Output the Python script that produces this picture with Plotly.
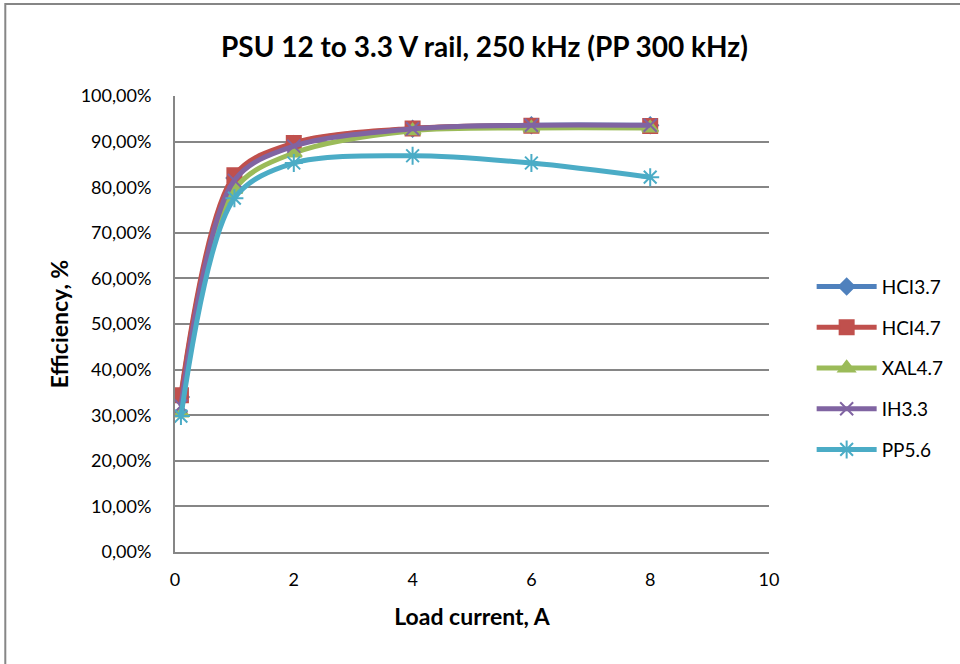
import plotly.graph_objects as go

# load current, A
load = [0.1, 1, 2, 4, 6, 8]

# efficiency, %
hci37 = [34.0, 82.0, 89.5, 92.8, 93.6, 93.6]
hci47 = [34.4, 82.6, 89.7, 92.9, 93.5, 93.4]
xal47 = [30.5, 79.5, 87.5, 92.4, 93.0, 93.0]
ih33 = [32.0, 81.5, 89.0, 92.8, 93.6, 93.6]
pp56 = [29.8, 77.6, 85.3, 86.9, 85.3, 82.2]

y_ticks = [0, 10, 20, 30, 40, 50, 60, 70, 80, 90, 100]
y_labels = ["%d,00%%" % v for v in y_ticks]
x_ticks = [0, 2, 4, 6, 8, 10]

series = [
    ("HCI3.7", hci37, "#4F81BD", "diamond", 12),
    ("HCI4.7", hci47, "#C0504D", "square", 14),
    ("XAL4.7", xal47, "#9BBB59", "triangle-up", 14),
    ("IH3.3", ih33, "#8064A2", "x-thin", 13),
    ("PP5.6", pp56, "#4BACC6", "asterisk", 15),
]

fig = go.Figure()
for i, (name, vals, col, sym, sz) in enumerate(series):
    fig.add_trace(go.Scatter(
        x=load, y=vals, name=name, mode="lines+markers",
        line=dict(color=col, width=5, shape="spline", smoothing=0.9),
        marker=dict(symbol=sym, size=sz, color=col,
                    line=dict(color=col, width=2)),
        legendgroup=str(i),
    ))

fig.update_layout(
    width=960, height=664,
    margin=dict(l=175, r=190, t=96, b=112),
    paper_bgcolor="white", plot_bgcolor="white",
    font=dict(family="Lato", size=18, color="black"),
    title=dict(text="<b>PSU 12 to 3.3 V rail, 250 kHz (PP 300 kHz)</b>",
               x=0.521, xref="paper", xanchor="center",
               y=0.929, yanchor="middle", font=dict(size=28)),
    showlegend=True,
    legend=dict(x=1.07, xanchor="left", y=0.403, yanchor="middle",
                traceorder="grouped", tracegroupgap=13,
                font=dict(size=19), itemwidth=60),
    xaxis=dict(range=[0, 10], tickvals=x_ticks, showgrid=False,
               showline=True, linecolor="#868686", linewidth=2,
               ticks="", zeroline=False, ticklabelstandoff=10,
               title=dict(text="<b>Load current, A</b>", font=dict(size=23), standoff=20)),
    yaxis=dict(range=[0, 100], tickvals=y_ticks, ticktext=y_labels,
               showgrid=True, gridcolor="#868686", gridwidth=1.5,
               showline=True, linecolor="#868686", linewidth=2,
               ticks="", zeroline=False, ticklabelstandoff=18,
               title=dict(text="<b>Efficiency, %</b>", font=dict(size=23), standoff=6)),
    shapes=[dict(type="rect", xref="paper", yref="paper",
                 x0=-0.2857, x1=1.33, y0=-0.26, y1=1.2018,
                 line=dict(color="#868686", width=2), layer="below")],
)

fig.write_html("out.html", config={"displayModeBar": False},
               post_script="document.body.style.margin='0';")
